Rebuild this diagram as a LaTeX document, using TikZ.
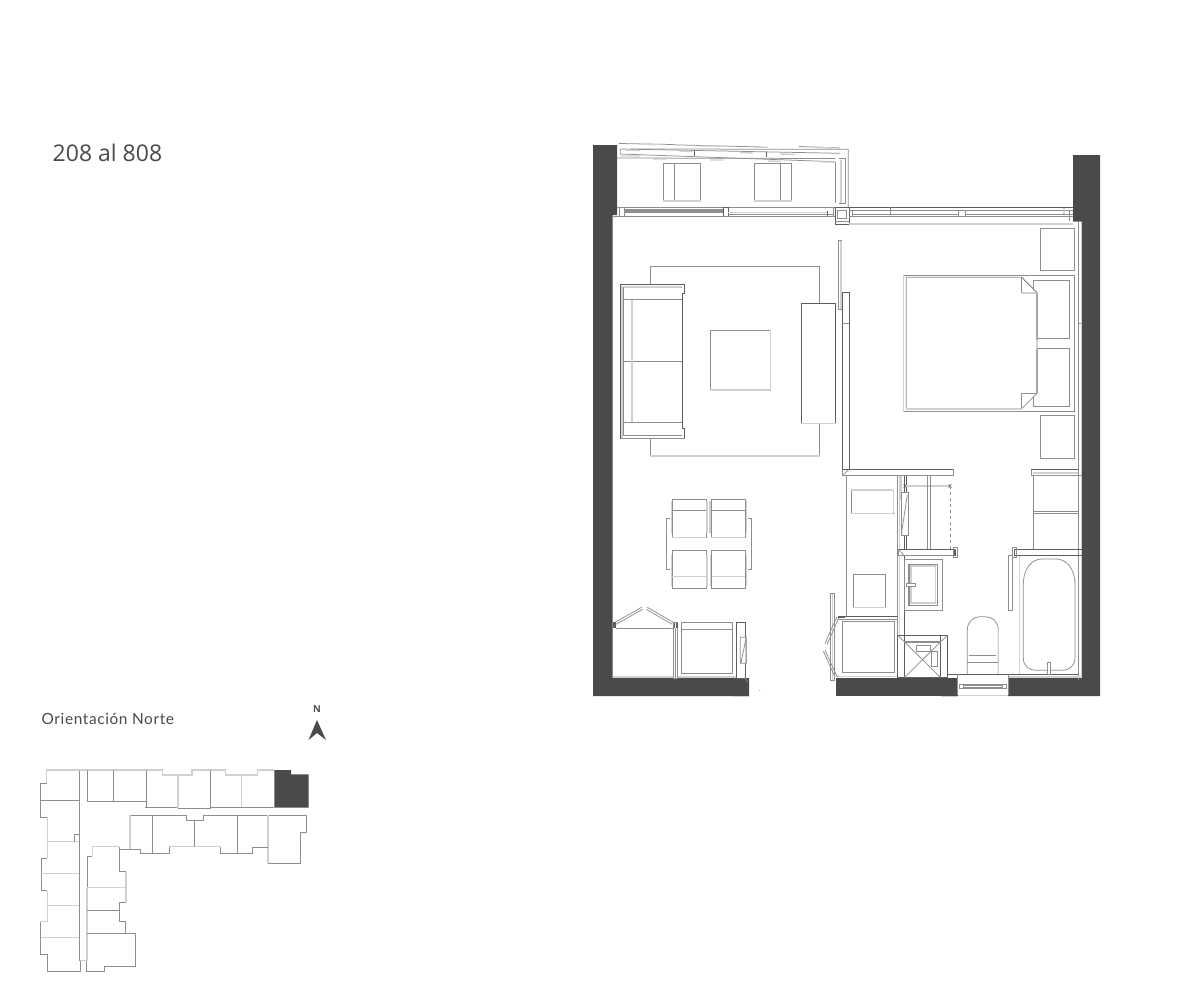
\documentclass[tikz,border=0pt]{standalone}
\usepackage{fontspec}
\setmainfont{Open Sans}
\newfontfamily\labelfont[LetterSpace=4]{Lato}
\definecolor{wallc}{HTML}{4A4A4A}
\definecolor{linec}{HTML}{8E8E8E}
\definecolor{darkc}{HTML}{5E5E5E}
\definecolor{lightc}{HTML}{D0D0D0}
\tikzset{
  wall/.style={fill=wallc,draw=none},
  ln/.style={draw=linec,line width=0.75pt},
  dk/.style={draw=darkc,line width=0.8pt},
  lt/.style={draw=lightc,line width=1.4pt},
  lnw/.style={draw=linec,line width=0.75pt,fill=white},
  dkw/.style={draw=darkc,line width=0.8pt,fill=white},
  kp/.style={draw=linec,line width=0.7pt},
  kpl/.style={draw=lightc,line width=1.2pt},
}
\begin{document}
\begin{tikzpicture}[x=1pt,y=-1pt]
\useasboundingbox (0,0) rectangle (1201,1001);
\fill[white] (0,0) rectangle (1201,1001);
% ---------- labels
\node[anchor=west,inner sep=0pt,text=wallc,font=\fontsize{23}{26}\selectfont] (title) at (52.5,152.7) {208 al 808};
\node[anchor=west,inner sep=0pt,text=wallc,font=\labelfont\fontsize{15.4}{17}\selectfont] (orient) at (41.5,718.7) {Orientación Norte};
\node[inner sep=0pt,text=wallc,font=\fontsize{9.5}{10}\selectfont\bfseries] (north) at (317,709.5) {N};
\fill[wallc] (317,720) -- (326,740) -- (317,733) -- (308.5,740) -- cycle;
% ---------- walls
\fill[wall] (593,145) -- (617,145) -- (617,215) -- (612.5,215) -- (612.5,678) -- (749,678) -- (749,696) -- (593,696) -- cycle;
\fill[wall] (1073,155) -- (1100,155) -- (1100,696) -- (1008,696) -- (1008,678) -- (1082,678) -- (1082,221) -- (1073,221) -- cycle;
\fill[wall] (836,678) rectangle (958,696);
% ---------- balcony sketch lines
\draw[ln] (619,143.5) -- (673,144.5);
\draw[ln] (673,144.8) -- (763,147);
\draw[ln] (799,146.5) -- (840,148);
\draw[lt] (647,144.5) -- (662,144.5) (700,146) -- (719,146) (755,147) -- (768,147.5) (817,147.5) -- (832,148);
\draw[ln] (620.3,149) -- (840,153.3) (620.3,149) -- (620.3,154) -- (835,161.7);
\draw[ln] (630,149) -- (848.3,149.3) -- (848.3,207.7);
\draw[lt] (625,150) -- (640,150.5) (680,151) -- (692,151.5) (740,152.5) -- (753,153) (780,154) -- (795,154.5) (621,156) -- (640,156) (653,159) -- (667,159) (710,160) -- (724,160) (768,161) -- (781,161.5) (822,162) -- (834,162);
\draw[dk] (694,151) -- (694,156) (766.7,152) -- (766.7,157);
\draw[lt] (841,160) -- (841,203);
\draw[ln] (839.3,158) -- (845,158) -- (845,203.3) -- (839.3,203.3);
\draw[ln] (835.7,161.5) -- (835.7,203);
\draw[ln] (617,158) -- (835,158.5);
% balcony chairs
\draw[ln] (663.3,163.3) rectangle (700.7,201) (674.3,163.3) -- (674.3,201);
\draw[ln] (754.3,163.3) rectangle (791.7,201) (780.7,163.3) -- (780.7,201);
\draw[lt] (663.3,201) -- (700.7,201) (754.3,201) -- (791.7,201);
% ---------- window band
\draw[ln] (617,207.3) -- (835.3,207.3);
\draw[ln] (619.3,216.3) -- (723.3,216.3);
\fill[linec] (624.7,209) rectangle (723.3,211.7);
\draw[ln] (624.7,212.7) -- (723.3,212.7);
\draw[lnw] (619.3,207.3) rectangle (624.7,216.3);
\draw[dkw] (723.3,207.3) rectangle (728.3,216.3);
\draw[lt] (728.3,212.5) -- (827,212.5);
\draw[dk] (728.3,216) -- (833.3,216) (827.7,211) -- (827.7,216);
\draw[ln] (728.3,214.5) -- (833.3,214.5) (833.3,207.3) -- (833.3,216.3);
\draw[dk] (835.3,207.3) rectangle (849,224.3);
\draw[ln] (837.7,210) rectangle (846.7,218.3) (835.3,221) -- (849,221);
\draw[dk] (849,207.3) -- (1073,207.3);
\draw[ln] (849,210.7) -- (1073,210.7) (849,216.7) -- (1073,216.7);
\draw[line width=1pt,draw=linec] (852.7,214) -- (958.3,214) (965.3,214) -- (1028,214);
\draw[ln] (1028,214) -- (1073,214);
\draw[ln] (852.7,210.7) -- (852.7,216.3) (890.7,207.3) -- (890.7,214) (958.3,210.7) -- (958.3,216.7) (965.3,210.7) -- (965.3,216.7) (1069.3,210.7) -- (1069.3,221);
\draw[lt] (1064,208) -- (1064,214);
\draw[lt] (849,224) -- (1073,224);
\draw[ln] (613,216.8) -- (835,216.8);
% inner right wall lines
\draw[ln] (1078.3,221) -- (1078.3,680) (1078.3,323) -- (1082,323) (1073,221) -- (1082,221);
\draw[lt] (1081.2,222) -- (1081.2,677);
% ---------- living
\draw[ln] (650.3,266) rectangle (819.7,456);
\draw[lt] (650.3,456) -- (819.7,456);
% sofa
\draw[dkw] (620.7,284.3) -- (684.7,284.3) -- (684.7,293.3) -- (682.3,293.3) -- (682.3,428.3) -- (684.7,428.3) -- (684.7,438.3) -- (620.7,438.3) -- cycle;
\draw[ln] (623.3,287) -- (682.3,287) (623.3,287) -- (623.3,435.7) -- (682.3,435.7);
\draw[lt] (623.8,287) -- (681,287);
\draw[ln] (623.3,299.3) -- (682.3,299.3) (623.3,361.3) -- (682.3,361.3) (623.3,422.3) -- (682.3,422.3);
\draw[lt] (632,299.5) -- (632,422);
\draw[lt] (622,285.5) -- (622,437.5);
\draw[linec,line width=0.9pt] (620.7,438.8) -- (684.7,438.8);
% coffee table
\draw[ln] (710.3,330.3) rectangle (770.3,390);
\draw[lt] (770.3,330.3) -- (770.3,390) -- (710.3,390);
% console
\draw[dkw] (801.3,303.3) rectangle (835.7,423);
\draw[lt] (801.3,423.5) -- (835.7,423.5);
% door leaf & partition
\draw[lt] (840.8,241) -- (840.8,309);
\draw[ln] (838.3,240.7) -- (838.3,309.3) -- (842,309.3) (838.3,240.7) -- (842,240.7);
\draw[dk] (842.3,292.3) rectangle (849,475.7);
\draw[ln] (842.3,323.3) -- (849,323.3);
% ---------- bedroom
\draw[ln] (1040.3,228.3) rectangle (1074.7,270.7);
\draw[ln] (1040.3,415.7) rectangle (1074.3,458.3);
\draw[ln] (903.7,275.3) rectangle (1074.3,411.7);
\draw[lt] (903.7,275.3) -- (903.7,411.7);
\draw[ln] (1033.3,280.3) rectangle (1069.7,338.3);
\draw[ln] (1033.3,348.3) rectangle (1069.7,406.3);
\draw[lnw] (906.3,277.3) -- (1021.7,277.3) -- (1037,292.7) -- (1037,393.3) -- (1021.7,408.7) -- (906.3,408.7) -- cycle;
\draw[ln] (1021.7,277.3) -- (1021.7,292.7);
\draw[lt] (1021.7,292.9) -- (1037,292.9);
\draw[dk,densely dotted] (1021.7,277.3) -- (1037,292.7);
\draw[draw=black!35,line width=1.3pt] (1037,292.7) -- (1037,340) (1037,349) -- (1037,393.3);
\draw[ln] (1021.7,393.3) -- (1037,393.3) (1021.7,393.3) -- (1021.7,408.7);
\draw[lt] (906.3,409) -- (1021.7,409);
% ---------- core top wall
\draw[lnw] (842.3,469.3) rectangle (953.3,475.7);
\draw[ln] (842.3,475.7) -- (849,469.3);
\draw[dk] (842.3,469.3) -- (953.3,469.3);
\draw[ln] (846.3,475.7) -- (846.3,616.7);
% closet wardrobe
\draw[ln] (851.3,490) rectangle (893.3,513.3);
\draw[lt] (851.3,490) -- (893.3,490) (893.3,490) -- (893.3,513.3) (851.3,513.3) -- (893.3,513.3);
\draw[ln] (853.3,574.3) rectangle (885.7,607.7);
\draw[lt] (853.3,607.7) -- (885.7,607.7);
% vertical partition
\draw[ln] (897.7,475.7) -- (897.7,676);
\draw[dk] (904.3,475.7) -- (904.3,635) (906.7,475.7) -- (906.7,549);
\draw[lt] (899.5,476) -- (899.5,635) (901,476) -- (901,500);
\draw[lnw] (901,492.3) rectangle (908.3,535.7);
\draw[ln] (907.3,495) -- (901.7,531.7);
\draw[lt] (905,486) -- (950,486);
\draw[dk,line width=0.5pt] (903.5,484) -- (906.5,488) (903.5,488) -- (906.5,484) (948.5,484) -- (951.5,488) (948.5,488) -- (951.5,484);
\draw[ln,dashed] (950.7,486) -- (950.7,549);
\draw[ln] (927.3,475.7) -- (927.3,549.3) (930.7,475.7) -- (930.7,549.3);
\draw[lnw] (898.3,549.3) rectangle (955,555.7);
\draw[dk] (898.3,549.3) -- (955,549.3);
\draw[ln] (898.3,549.3) -- (904.3,555.7);
\draw[ln] (953.3,547.3) rectangle (957.3,557.3);
\draw[dk,line width=1.2pt] (955,550) -- (955,556);
% sink
\draw[ln] (904.3,559.3) rectangle (942.7,610.7);
\draw[ln] (908.3,564) rectangle (937.7,605.7);
\draw[lt] (911,566) -- (911,603) -- (935.5,603) -- (935.5,566) -- cycle;
\draw[ln] (909.5,565) -- (909.5,604.5);
\draw[lnw] (906.7,583.3) rectangle (915.7,586.7);
% closet bottom
\draw[dk] (838.3,616.7) -- (897.7,616.7);
\draw[ln] (838.3,619) -- (897.7,619);
\draw[ln] (842,621) rectangle (894,672.7);
\draw[lt] (832.5,594) -- (832.5,680);
\draw[ln] (830,593.3) rectangle (834,680);
\draw[ln] (836.7,617) -- (825,643.5) (838.8,618) -- (827,644.5);
\draw[ln] (825,650) -- (836.7,676) (823.3,651) -- (835,677);
\draw[dk,line width=1pt] (838,617) -- (845,617) (836.7,676) -- (845,676);
\draw[lt] (838.3,676.5) -- (897,676.5);
% shaft
\draw[dk] (897.7,635.3) rectangle (947.7,677.7);
\draw[dk] (904.3,635.3) -- (904.3,677.7) (940.7,635.3) -- (940.7,677.7);
\draw[linec,line width=1.6pt] (904.3,641.7) -- (940.7,641.7);
\draw[ln] (904.3,641.7) -- (940.7,677.7) (940.7,641.7) -- (904.3,677.7);
\draw[ln] (897.7,635.3) -- (904.3,641.7) (947.7,635.3) -- (940.7,641.7);
\draw[lnw] (916.7,645.7) rectangle (930,651);
\draw[lnw] (931,651.7) rectangle (937.7,666);
% toilet
\draw[ln] (967.3,674.3) -- (967.3,630) .. controls (967.3,622) and (973,616.7) .. (980,616.7) -- (985.5,616.7) .. controls (992.5,616.7) and (998.3,622) .. (998.3,630) -- (998.3,674.3);
\draw[lt] (998.3,630) -- (998.3,674.3);
\draw[ln] (969.3,655.7) -- (996,655.7) (967.3,662.3) -- (998.3,662.3);
% bottom window
\draw[dk] (947.7,674.3) -- (1078.3,674.3);
\fill[white] (958,677) rectangle (1008,695);
\draw[ln] (957.7,674.3) -- (957.7,695) (1008.3,674.3) -- (1008.3,695);
\draw[lt] (958,695.5) -- (1008,695.5) (941,696.5) -- (958,696.5);
\draw[ln] (959.3,684.3) rectangle (1006.7,688.7);
\draw[ln] (963,685.3) rectangle (1002.7,687.8);
\draw[lt] (1009,677) -- (1081,677);
% towel rail / bath
\draw[ln] (1008.3,555) rectangle (1012.7,610.7);
\draw[lt] (1019.5,556) -- (1019.5,674);
\draw[ln] (1023.3,585) .. controls (1023.3,568) and (1032,559) .. (1042,559) -- (1056,559) .. controls (1066,559) and (1075,568) .. (1075,585) -- (1075,658) .. controls (1075,666) and (1069,670.3) .. (1062,670.3) -- (1036,670.3) .. controls (1029,670.3) and (1023.3,666) .. (1023.3,658) -- cycle;
\draw[lt] (1075.5,580) -- (1075.5,658);
\draw[lnw] (1047.3,662.3) rectangle (1050.7,674.3);
% closet right
\draw[lnw] (1031.3,469.3) rectangle (1078.3,475.7);
\draw[lt] (1033,473) -- (1078,473);
\draw[dk] (1031.3,469.3) -- (1078.3,469.3);
\draw[ln] (1078.3,475.7) -- (1081.7,475.7);
\draw[ln] (1033.3,475.7) -- (1033.3,549.3) (1033.3,511.7) -- (1078.3,511.7) (1033.3,513.3) -- (1078.3,513.3);
\draw[dk] (1014,549.3) -- (1081.7,549.3);
\draw[dk] (1014,555.7) -- (1081.7,555.7) (1014,549.3) -- (1014,555.7);
\draw[ln] (1012.7,547.3) rectangle (1016,557.3);
% ---------- dining
\draw[ln] (666.3,518.3) -- (670,518.3) (666.3,518.3) -- (666.3,569.5) -- (670,569.5);
\draw[ln] (748,518.3) -- (751.7,518.3) -- (751.7,569.5) -- (748,569.5);
\foreach \cx/\cy/\cw in {672.3/499/33.7, 711/499/34.3}{
  \draw[ln] (\cx,\cy) rectangle ++(\cw,38.3);
  \draw[ln] (\cx,\cy+11.3) -- ++(\cw,0);
  \draw[lt] (\cx,\cy+38.5) -- ++(\cw,0);
  \draw[lt] (\cx-1,\cy+2) -- ++(0,31.5) (\cx+\cw+1,\cy+2) -- ++(0,31.5);
}
\foreach \cx/\cy/\cw in {672.3/550.3/33.7, 711.7/550.3/33.6}{
  \draw[ln] (\cx,\cy) rectangle ++(\cw,38);
  \draw[lt] (\cx,\cy+26.4) -- ++(\cw,0);
  \draw[lt] (\cx-1,\cy+5) -- ++(0,31) (\cx+\cw+1,\cy+5) -- ++(0,31);
}
% ---------- kitchen
\fill[darkc] (612.5,622.3) rectangle (615.7,628.3);
\draw[ln] (615.7,628.3) -- (673.3,628.3);
\draw[ln] (615,622.3) -- (641.7,607.3) (616,624.3) -- (642.7,609.3);
\draw[ln] (647.3,607.3) -- (673.3,622.3) (646.3,609.3) -- (672.3,624.3);
\draw[ln] (673.5,622.3) rectangle (677.5,678);
\draw[ln] (675.5,628) -- (675.5,678);
\draw[dk,line width=1.2pt] (674.3,622.5) -- (674.3,628) (677,622.5) -- (677,628);
\draw[ln] (681.3,622.3) rectangle (732.7,673.3) (681.3,629.3) -- (732.7,629.3);
\draw[dk] (736.3,622.3) rectangle (745.3,678.3);
\draw[lt] (746,638) -- (746,663);
\draw[ln] (740.3,637.3) rectangle (746.3,663.3) (746,638.5) -- (741,662.5);
\draw[lt] (613,676.8) -- (673,676.8) (678,676.8) -- (736,676.8);
\draw[ln] (745.3,678) -- (747.5,682);
\fill[linec] (759.7,690.7) circle (0.5);
\draw[lt] (733,696.3) -- (749,696.3);
% ---------- key plan
\fill[wallc] (274.3,770) -- (291,770) -- (291,774.3) -- (308.7,774.3) -- (308.7,807.7) -- (274.3,807.7) -- cycle;
\draw[kp] (79.3,770) -- (79.3,960.7) -- (80.7,960.7) -- (80.7,971.3) -- (47.3,971.3) -- (47.3,954.3) -- (40.7,954.3) -- (40.7,921.7);
\draw[kpl] (40.7,921.7) -- (47.3,921.7) -- (47.3,890.7);
\draw[kp] (47.3,890.7) -- (41.3,890.7) -- (41.3,858.3) -- (47.3,858.3);
\draw[kpl] (47.3,858.3) -- (47.3,817.3);
\draw[kp] (47.3,817.3) -- (40.7,817.3) -- (40.7,783.3) -- (46.7,783.3);
\draw[kpl] (46.7,783.3) -- (46.7,770) -- (162.7,770) -- (162.7,775) -- (192,775) -- (192,770) -- (225.3,770) -- (225.3,775) -- (257.7,775) -- (257.7,770) -- (274.3,770);
\draw[kp] (40.7,800) -- (79.3,800);
\draw[kpl] (47.3,841.7) -- (79.3,841.7) (41.3,873.7) -- (79.3,873.7) (47.3,905.7) -- (79.3,905.7) (40.7,937.7) -- (79.3,937.7);
\draw[kp] (79.3,834.3) -- (74.3,834.3) -- (74.3,841.7);
\draw[kp] (87.3,770) -- (87.3,801.7) -- (146.3,801.7) (113.3,770) -- (113.3,801.7) (146.3,770) -- (146.3,807.3);
\draw[kp] (145.3,807.3) -- (178,807.3) -- (178,808.3) -- (210.3,808.3) -- (210.3,807.3) -- (274.3,807.3);
\draw[kpl] (178,775) -- (178,808);
\draw[kp] (210.3,770) -- (210.3,807.3);
\draw[kpl] (241.7,775) -- (241.7,807);
% lower wing
\draw[kp] (130,815.3) -- (186.7,815.3) -- (186.7,820) -- (203.3,820) -- (203.3,815.3) -- (306.7,815.3) -- (306.7,832.3) -- (300.7,832.3) -- (300.7,863.3) -- (268,863.3);
\draw[kpl] (268,863.3) -- (268,815.3);
\draw[kpl] (130,815.3) -- (130,849.3);
\draw[kp] (119.3,849.3) -- (140,849.3) -- (140,853.3) -- (169.3,853.3) -- (169.3,846.7);
\draw[kpl] (169.3,846.7) -- (220,846.7);
\draw[kp] (220,846.7) -- (220,853.3) -- (252.7,853.3) -- (252.7,847.3) -- (268,847.3);
\draw[kp] (152.3,815.3) -- (152.3,853.3) (194.3,820) -- (194.3,846.7) (237.3,815.3) -- (237.3,853.3);
% lower-left wing
\draw[kpl] (119.3,846.7) -- (92.3,846.7) -- (92.3,856);
\draw[kp] (92.3,856) -- (87.3,856) -- (87.3,887.7);
\draw[kpl] (87,887.7) -- (87,960.7) -- (80,960.7);
\draw[kp] (86.3,960.7) -- (86.3,971.3) -- (104,971.3) -- (104,966.3) -- (135.7,966.3) -- (135.7,933.3) -- (125.3,933.3) -- (125.3,921.3) -- (119.3,921.3) -- (119.3,902.3) -- (126,902.3);
\draw[kpl] (126,902.3) -- (126,871.7);
\draw[kp] (126,871.7) -- (119.3,871.7) -- (119.3,846.7);
\draw[kpl] (87,887.7) -- (126,887.7);
\draw[kp] (87,910.3) -- (119.3,910.3) (87,933.3) -- (125.3,933.3);
\end{tikzpicture}
\end{document}
